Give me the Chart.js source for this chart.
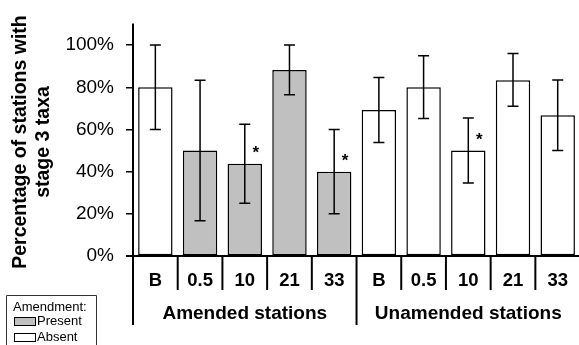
<!DOCTYPE html>
<html lang="en">
<head>
  <meta charset="UTF-8">
  <title>Stage 3 taxa by station</title>
  <script src="https://cdn.jsdelivr.net/npm/chart.js"></script>
  <style>
    body { margin: 0; background: #fff; }
    #wrap { width: 579px; height: 345px; overflow: hidden; }
    #box { width: 582px; height: 345px; }
</style>
</head>
<body>
<div id="wrap"><div id="box"><canvas id="myChart"></canvas></div></div>

<script>
    // Data
    const stations = ["B", "0.5", "10", "21", "33", "B", "0.5", "10", "21", "33"];
    const percentStage3 = [80, 50, 43.75, 88.2, 40, 69.2, 80, 50, 83.3, 66.7];
    const errLow = [60, 16.7, 25, 76.5, 20, 53.8, 65.2, 34.6, 71, 50];
    const errHigh = [100, 83.3, 62.5, 100, 60, 84.6, 95, 65.4, 96, 83.5];
    const amendmentPresent = [false, true, true, true, true, false, false, false, false, false];
    const significant = [false, false, true, false, true, false, false, true, false, false];
    const groups = ["Amended stations", "Unamended stations"];
    const groupSize = 5;
    const yTicks = [0, 20, 40, 60, 80, 100];

    const FONT = "'Liberation Sans', Arial, sans-serif";
    const GREY = "#c0c0c0";

    // error bars, asterisks, separators, group labels, axis title and legend
    const extras = {
      id: 'extras',
      afterDatasetsDraw(chart) {
        const ctx = chart.ctx;
        const x = chart.scales.x, y = chart.scales.y;
        const area = chart.chartArea;
        const meta = chart.getDatasetMeta(0);
        const step = (area.right - area.left) / stations.length;

        ctx.save();
        ctx.strokeStyle = '#000';
        ctx.fillStyle = '#000';

        // error bars
        ctx.lineWidth = 1.5;
        meta.data.forEach((bar, i) => {
          const cx = bar.x;
          const top = y.getPixelForValue(errHigh[i]);
          const bot = y.getPixelForValue(errLow[i]);
          ctx.beginPath();
          ctx.moveTo(cx, top); ctx.lineTo(cx, bot);
          ctx.moveTo(cx - 5.5, top); ctx.lineTo(cx + 5.5, top);
          ctx.moveTo(cx - 5.5, bot); ctx.lineTo(cx + 5.5, bot);
          ctx.stroke();

          if (significant[i]) {
            ctx.font = 'bold 17px ' + FONT;
            ctx.textAlign = 'center';
            ctx.textBaseline = 'middle';
            ctx.fillText('*', cx + 11, y.getPixelForValue(percentStage3[i]) - 10);
          }
        });

        // axis lines
        ctx.lineWidth = 2;
        ctx.beginPath();
        ctx.moveTo(area.left, area.top);
        ctx.lineTo(area.left, 325);
        ctx.moveTo(area.left - 7, area.bottom);
        ctx.lineTo(area.right + 5, area.bottom);
        ctx.stroke();

        // category separators
        for (let i = 1; i < stations.length; i++) {
          const sx = area.left + i * step;
          const long = i % groupSize === 0;
          ctx.beginPath();
          ctx.moveTo(sx, area.bottom);
          ctx.lineTo(sx, long ? 325 : 290);
          ctx.stroke();
        }

        // group labels
        ctx.font = 'bold 19px ' + FONT;
        ctx.textAlign = 'center';
        ctx.textBaseline = 'middle';
        groups.forEach((g, k) => {
          const gx = area.left + (k * groupSize + groupSize / 2) * step;
          ctx.fillText(g, gx, 314);
        });

        // y axis title
        ctx.save();
        ctx.translate(0, 142);
        ctx.rotate(-Math.PI / 2);
        ctx.font = 'bold 19.5px ' + FONT;
        ctx.fillText('Percentage of stations with', 0, 21);
        ctx.fillText('stage 3 taxa', 0, 44);
        ctx.restore();

        // legend
        ctx.lineWidth = 1;
        ctx.strokeStyle = '#333';
        ctx.beginPath();
        ctx.moveTo(6.5, 350); ctx.lineTo(6.5, 295.5); ctx.lineTo(96.5, 295.5); ctx.lineTo(96.5, 350);
        ctx.stroke();
        ctx.font = '13px ' + FONT;
        ctx.textAlign = 'left';
        ctx.fillStyle = '#000';
        ctx.fillText('Amendment:', 13, 307);
        ctx.fillText('Present', 37, 321);
        ctx.fillText('Absent', 37, 337);
        ctx.strokeStyle = '#000';
        ctx.fillStyle = GREY;
        ctx.fillRect(14.5, 317.5, 21, 8);
        ctx.strokeRect(14.5, 317.5, 21, 8);
        ctx.fillStyle = '#fff';
        ctx.fillRect(14.5, 333.5, 21, 8);
        ctx.strokeRect(14.5, 333.5, 21, 8);

        ctx.restore();
      }
    };

    const config = {
      type: 'bar',
      data: {
        labels: stations,
        datasets: [{
          data: percentStage3,
          backgroundColor: amendmentPresent.map(p => p ? GREY : '#fff'),
          borderColor: '#000',
          borderWidth: 1.5,
          borderSkipped: false,
          categoryPercentage: 1,
          barPercentage: 0.77
        }]
      },
      options: {
        responsive: true,
        maintainAspectRatio: false,
        animation: false,
        layout: { padding: { top: 9, right: 0, left: 0, bottom: 0 } },
        scales: {
          x: {
            grid: { display: false, drawTicks: false },
            border: { display: false },
            ticks: {
              color: '#000',
              font: { family: FONT, size: 18.5, weight: 'bold' },
              padding: 14,
              maxRotation: 0,
              autoSkip: false
            },
            afterFit(scale) { scale.height = 89; }
          },
          y: {
            min: 0,
            max: 110.3,
            afterBuildTicks(scale) { scale.ticks = yTicks.map(v => ({ value: v })); },
            grid: {
              drawOnChartArea: false,
              drawTicks: true,
              tickLength: 7,
              color: '#000',
              lineWidth: 1.5
            },
            border: { display: false },
            ticks: {
              color: '#000',
              font: { family: FONT, size: 19 },
              padding: 12,
              callback: v => v + '%'
            },
            afterFit(scale) { scale.width = 133; }
          }
        },
        plugins: {
          legend: { display: false },
          tooltip: { enabled: false }
        }
      },
      plugins: [extras]
    };

    const ctx = document.getElementById('myChart').getContext('2d');
    const myChart = new Chart(ctx, config);
</script>

</body>
</html>
